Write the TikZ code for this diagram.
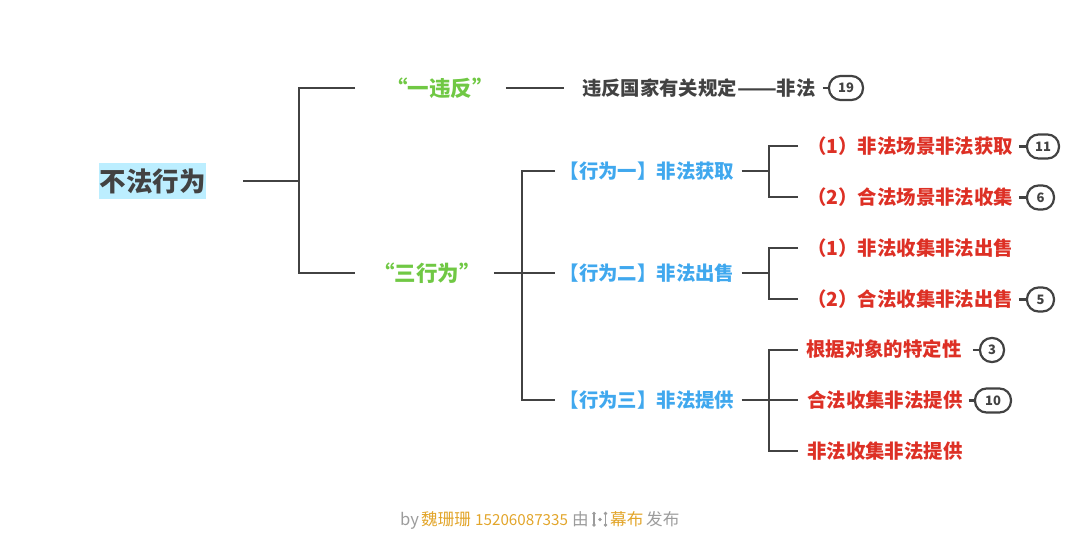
\documentclass[tikz,border=0pt]{standalone}
\usepackage{graphicx}
\usepackage{fontspec}
\setmainfont{Noto Sans CJK SC}
\definecolor{ink}{HTML}{424242}
\definecolor{grn}{HTML}{70C844}
\definecolor{blu}{HTML}{40A8EE}
\definecolor{rdd}{HTML}{DD3025}
\definecolor{hili}{HTML}{BCEEFF}
\definecolor{foot}{HTML}{9C9C9C}
\definecolor{gold}{HTML}{E2A52A}
\tikzset{
  conn/.style={draw=ink,line width=2.2pt,line join=miter},
  txt/.style={inner sep=0pt,font=\fontsize{19.4}{19.4}\selectfont\bfseries},
  dark/.style={txt,text=ink,anchor=west,font=\fontsize{19.35}{19.35}\selectfont\bfseries},
  green/.style={txt,text=grn,font=\fontsize{21.5}{21.5}\selectfont\bfseries},
  blue/.style={txt,text=blu,anchor=west},
  red/.style={txt,text=rdd,anchor=west},
  badge/.style={draw=ink,line width=2.2pt,rounded corners=11.5pt,minimum height=24pt,inner sep=0pt,text=ink,font=\fontsize{13}{13}\selectfont\bfseries},
  ft/.style={inner sep=0pt,anchor=base west,text=foot,font=\fontsize{16.6}{16.6}\selectfont},
  fg/.style={ft,text=gold},
}
\begin{document}
\begin{tikzpicture}[x=1pt,y=-1pt]
\useasboundingbox (0,0) rectangle (1080,550);
% text
\node[inner sep=0pt,fill=hili,minimum width=107pt,minimum height=36pt,text=ink,font=\fontsize{26.5}{26.5}\selectfont\bfseries] (root) at (152.5,181) {不法行为};
\node[green] (one) at (440,88) {“一违反”};
\node[green] (three) at (427,273) {“三行为”};
\node[dark] (rule) at (582,88) {违反国家有关规定\scalebox{1.2}[1]{——}非法};
\node[blue] (b1) at (559.5,171) {【行为一】非法获取};
\node[blue] (b2) at (559.5,273) {【行为二】非法出售};
\node[blue] (b3) at (559.5,400) {【行为三】非法提供};
\node[red] (r1) at (807,146) {（1）非法场景非法获取};
\node[red] (r2) at (807,197) {（2）合法场景非法收集};
\node[red] (r3) at (807,248) {（1）非法收集非法出售};
\node[red] (r4) at (807,299) {（2）合法收集非法出售};
\node[red] (r5) at (806,349) {根据对象的特定性};
\node[red] (r6) at (807,400) {合法收集非法提供};
\node[red] (r7) at (807,451) {非法收集非法提供};
% badges
\node[badge,minimum width=34pt] (n19) at (846,88) {19};
\node[badge,minimum width=32pt] (n11) at (1043,146.5) {11};
\node[badge,minimum width=27pt] (n6) at (1040.5,197.5) {6};
\node[badge,minimum width=27pt] (n5) at (1040.5,299.5) {5};
\node[badge,minimum width=24pt] (n3) at (992,350) {3};
\node[badge,minimum width=36pt] (n10) at (993,400.5) {10};
% junctions
\coordinate (j0) at (299,181);
\coordinate (j1) at (522,273);
\coordinate (j2) at (769,171);
\coordinate (j3) at (769,273);
\coordinate (j4) at (769,400);
% trees
\draw[conn] ([xshift=37pt]root.east) -- (j0);
\draw[conn] ([xshift=-31pt]one.west) -| (j0) |- ([xshift=-18pt]three.west);
\draw[conn] ([xshift=12pt]one.east) -- ([xshift=-18pt]rule.west);
\draw[conn] ([xshift=13pt]three.east) -- (j1);
\draw[conn] ([xshift=-4.5pt]b1.west) -| (j1) |- ([xshift=-4.5pt]b3.west);
\draw[conn] (j1) -- ([xshift=-4.5pt]b2.west);
\draw[conn] ([xshift=7pt]b1.east) -- (j2);
\draw[conn] ([xshift=-9pt]r1.west) -| (j2) |- ([xshift=-9pt]r2.west);
\draw[conn] ([xshift=7pt]b2.east) -- (j3);
\draw[conn] ([xshift=-9pt]r3.west) -| (j3) |- ([xshift=-9pt]r4.west);
\draw[conn] ([xshift=7pt]b3.east) -- (j4);
\draw[conn] ([xshift=-8pt]r5.west |- n3) -| (j4) |- ([xshift=-9pt]r7.west);
\draw[conn] (j4) -- ([xshift=-9pt]r6.west);
% stubs
\draw[conn] ([xshift=-5pt]n19.west) -- (n19.west);
\draw[conn] ([xshift=-7pt]n11.west) -- (n11.west);
\draw[conn] ([xshift=-7pt]n6.west) -- (n6.west);
\draw[conn] ([xshift=-7pt]n5.west) -- (n5.west);
\draw[conn] ([xshift=-6pt]n3.west) -- (n3.west);
\draw[conn] ([xshift=-5pt]n10.west) -- (n10.west);
% footer
\node[ft] (f1) at (400,525) {by};
\node[fg] (f2) at (421,525) {魏珊珊};
\node[fg,font=\fontsize{15.2}{15.2}\selectfont] (f3) at (475,525) {15206087335};
\node[ft] (f4) at (572,525) {由};
\node[fg] (f5) at (610,525) {幕布};
\node[ft] (f6) at (646,525) {发布};
% logo
\fill[foot] (594,513.5) circle (1.8pt) (594,525) circle (1.8pt) (600,519.5) circle (1.8pt) (605.5,513.5) circle (1.8pt) (605.5,525) circle (1.8pt);
\draw[foot,line width=1.2pt] (594,513.5) -- (594,525) (605.5,513.5) -- (605.5,525);
\end{tikzpicture}
\end{document}
